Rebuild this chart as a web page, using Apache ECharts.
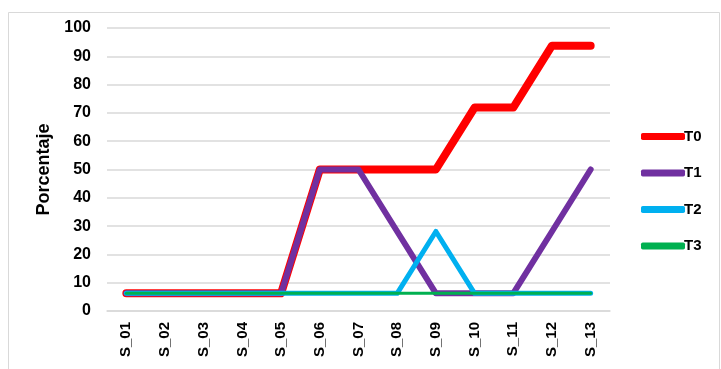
<!DOCTYPE html>
<html>
<head>
<meta charset="utf-8">
<script src="https://cdn.jsdelivr.net/npm/echarts@6/dist/echarts.min.js"></script>
<style>
  html, body { margin: 0; padding: 0; background: #fff; }
  #main { width: 721px; height: 369px; }
</style>
</head>
<body>
<div id="main"></div>
<script>
var sesiones = ['S_01', 'S_02', 'S_03', 'S_04', 'S_05', 'S_06', 'S_07', 'S_08', 'S_09', 'S_10', 'S_11', 'S_12', 'S_13'];
var t0 = [6.25, 6.25, 6.25, 6.25, 6.25, 50, 50, 50, 50, 71.9, 71.9, 93.75, 93.75];
var t1 = [6.25, 6.25, 6.25, 6.25, 6.25, 50, 50, 28.1, 6.25, 6.25, 6.25, 28.1, 50];
var t2 = [6.25, 6.25, 6.25, 6.25, 6.25, 6.25, 6.25, 6.25, 28.1, 6.25, 6.25, 6.25, 6.25];
var t3 = [6.25, 6.25, 6.25, 6.25, 6.25, 6.25, 6.25, 6.25, 6.25, 6.25, 6.25, 6.25, 6.25];

var fuente = 'Liberation Sans';

function serie(nombre, datos, color, ancho) {
    return {
        name: nombre,
        type: 'line',
        data: datos,
        symbol: 'none',
        lineStyle: { color: color, width: ancho, cap: 'round', join: 'round' },
        itemStyle: { color: color },
        animation: false
    };
}

var myChart = echarts.init(document.getElementById('main'));
var option = {
    backgroundColor: '#fff',
    graphic: [{
        type: 'rect',
        shape: { x: 8.5, y: 12.5, width: 711, height: 370 },
        style: { fill: 'none', stroke: '#d9d9d9', lineWidth: 1 },
        silent: true
    }],
    grid: { left: 107, right: 111, top: 28, bottom: 58 },
    legend: {
        orient: 'vertical',
        left: 636,
        top: 124,
        itemWidth: 44,
        itemHeight: 7,
        itemGap: 21.5,
        icon: 'roundRect',
        textStyle: { fontFamily: fuente, fontSize: 15, fontWeight: 'bold', color: '#000', padding: [0, 0, 0, -6] },
        data: ['T0', 'T1', 'T2', 'T3']
    },
    xAxis: {
        type: 'category',
        data: sesiones,
        boundaryGap: true,
        axisLine: { show: true, lineStyle: { color: '#d9d9d9', width: 1.5 } },
        axisTick: { show: false },
        axisLabel: { rotate: 90, fontFamily: fuente, fontSize: 15, fontWeight: 'bold', color: '#000', margin: 11 }
    },
    yAxis: {
        type: 'value',
        min: 0,
        max: 100,
        interval: 10,
        name: 'Porcentaje',
        nameLocation: 'middle',
        nameGap: 52,
        nameTextStyle: { fontFamily: fuente, fontSize: 18, fontWeight: 'bold', color: '#000' },
        axisLine: { show: false },
        axisTick: { show: false },
        axisLabel: { fontFamily: fuente, fontSize: 16, fontWeight: 'bold', color: '#000', margin: 16 },
        splitLine: { lineStyle: { color: '#d9d9d9', width: 1.5 } }
    },
    series: [
        serie('T0', t0, '#ff0000', 8),
        serie('T1', t1, '#7030a0', 6),
        serie('T2', t2, '#00b0f0', 5),
        serie('T3', t3, '#00b050', 3)
    ]
};
myChart.setOption(option);
</script>
</body>
</html>
